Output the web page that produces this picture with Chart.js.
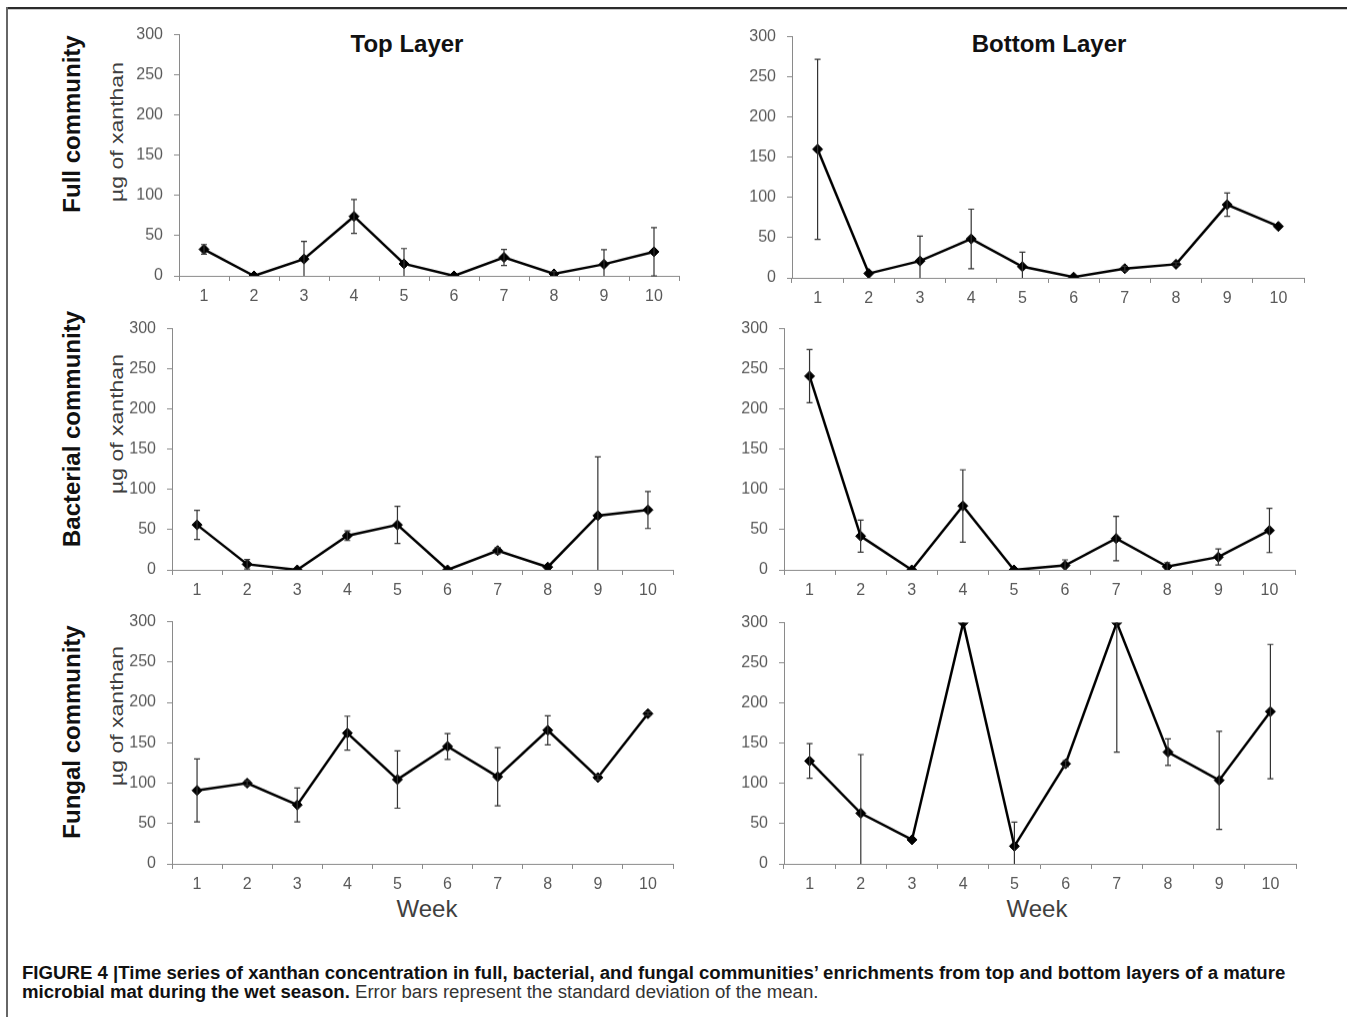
<!DOCTYPE html>
<html>
<head>
<meta charset="utf-8">
<script src="https://cdn.jsdelivr.net/npm/chart.js@4"></script>
<style>
  body { margin: 0; background: #fff; }
  #fig { position: relative; width: 1347px; height: 1017px; overflow: hidden; font-family: "Liberation Sans", Arial, sans-serif; }
  canvas { position: absolute; }
  .t { position: absolute; white-space: nowrap; transform: translate(-50%, -50%); }
  .rot { transform: translate(-50%, -50%) rotate(-90deg); }
  .rotthin { transform: translate(-50%, -50%) rotate(-90deg) scaleY(0.8); }
  .head { font-weight: bold; font-size: 24px; color: #111; }
  .row { font-weight: bold; font-size: 24px; color: #111; }
  .unit { font-size: 23px; color: #404040; }
  .week { font-size: 24px; color: #404040; }
  #caption { position: absolute; left: 22px; top: 963px; font-size: 16px; line-height: 19px; color: #111; white-space: nowrap; }
  #caption b { font-weight: bold; }
  #caption span.rest { color: #333; }
</style>
</head>
<body>
<div id="fig">
  <div style="position:absolute;left:6px;top:7px;width:1341px;height:2px;background:#2b2b2b;"></div>
  <div style="position:absolute;left:6px;top:9px;width:1341px;height:1px;background:#c8c8c8;"></div>
  <div style="position:absolute;left:6px;top:7px;width:2px;height:1010px;background:#666;"></div>

  <div class="t head" style="left:407px;top:44px;">Top Layer</div>
  <div class="t head" style="left:1049px;top:44px;">Bottom Layer</div>

  <div class="t rot row" style="left:72px;top:124px;">Full community</div>
  <div class="t rotthin unit" style="left:117px;top:132px;">µg of xanthan</div>
  <div class="t rot row" style="left:72px;top:429px;">Bacterial community</div>
  <div class="t rotthin unit" style="left:117px;top:424px;">µg of xanthan</div>
  <div class="t rot row" style="left:72px;top:732px;">Fungal community</div>
  <div class="t rotthin unit" style="left:117px;top:716px;">µg of xanthan</div>

  <div class="t week" style="left:427px;top:909px;">Week</div>
  <div class="t week" style="left:1037px;top:909px;">Week</div>

  <div id="caption">
    <div id="cap1"><b>FIGURE 4 |Time series of xanthan concentration in full, bacterial, and fungal communities’ enrichments from top and bottom layers of a mature</b></div>
    <div><b>microbial mat during the wet season.</b> <span class="rest">Error bars represent the standard deviation of the mean.</span></div>
  </div>
</div>

<script>
// weeks on the x axis
const weeks = ["1", "2", "3", "4", "5", "6", "7", "8", "9", "10"];
const yTicks = [0, 50, 100, 150, 200, 250, 300];

// µg of xanthan, mean and standard deviation per week
const topFull = [33, 0, 21, 74, 15, 0, 23, 2.5, 14.5, 30];
const topFullErr = [6, 0, 22, 21, 19, 0, 10, 3, 18, 30];
const bottomFull = [160, 5.5, 21, 48.5, 14, 1, 11.5, 17, 91, 64];
const bottomFullErr = [112, 0, 31, 37, 18, 0, 3, 2, 14.5, 0];

const topBact = [56, 7, 0, 42.5, 56, 0, 24, 3.5, 67.5, 74.5];
const topBactErr = [18, 6, 0, 6, 23, 0, 4, 0, 73, 23];
const bottomBact = [241, 42, 0, 79.5, 0, 5.5, 39, 4, 16, 49];
const bottomBactErr = [33, 20, 0, 45, 0, 7, 27.5, 5, 10, 27.5];

const topFung = [91, 100, 73, 162, 104.5, 145.5, 108, 165.5, 107, 186];
const topFungErr = [39, 3, 21, 21, 35.5, 16, 36, 18, 3, 2];
const bottomFung = [128, 63, 30, 300, 22, 124.5, 300, 139, 104, 189.5];
const bottomFungErr = [21.5, 73, 0, 0, 30, 4, 161, 16.5, 61, 83.5];

// where each plot area sits on the page
const panels = [
  { values: topFull, errors: topFullErr, ax: 179, right: 679, top: 35, bottom: 276 },
  { values: bottomFull, errors: bottomFullErr, ax: 792, right: 1304, top: 37, bottom: 278 },
  { values: topBact, errors: topBactErr, ax: 172, right: 673, top: 329, bottom: 570 },
  { values: bottomBact, errors: bottomBactErr, ax: 784, right: 1295, top: 329, bottom: 570 },
  { values: topFung, errors: topFungErr, ax: 172, right: 673, top: 622, bottom: 864 },
  { values: bottomFung, errors: bottomFungErr, ax: 784, right: 1296, top: 623, bottom: 864 },
];

const PAD_L = 70, PAD_T = 12, PAD_R = 12, PAD_B = 40;
const axisGray = "#8a8a8a";
const tickText = "#595959";

// draws the standard deviation whiskers, clipped to the axis range
const errorBars = {
  id: "errorBars",
  afterDatasetsDraw(chart) {
    const ctx = chart.ctx;
    const y = chart.scales.y;
    chart.data.datasets.forEach((ds, di) => {
      const meta = chart.getDatasetMeta(di);
      ds.errors.forEach((e, i) => {
        if (!e) return;
        const v = ds.data[i];
        const px = meta.data[i].x;
        const hi = v + e;
        const lo = v - e;
        const yTop = y.getPixelForValue(Math.min(hi, y.max));
        const yBot = y.getPixelForValue(Math.max(lo, y.min));
        ctx.save();
        ctx.strokeStyle = "#333";
        ctx.lineWidth = 1.2;
        ctx.beginPath();
        ctx.moveTo(px, yTop);
        ctx.lineTo(px, yBot);
        if (hi <= y.max) { ctx.moveTo(px - 3, yTop); ctx.lineTo(px + 3, yTop); }
        if (lo >= y.min) { ctx.moveTo(px - 3, yBot); ctx.lineTo(px + 3, yBot); }
        ctx.stroke();
        ctx.restore();
      });
    });
  },
};

Chart.defaults.font.family = '"Liberation Sans", Arial, sans-serif';

function makeConfig(p) {
  return {
    type: "line",
    data: {
      labels: weeks,
      datasets: [
        {
          data: p.values,
          errors: p.errors,
          borderColor: "#000",
          borderWidth: 2.5,
          tension: 0,
          pointStyle: "rectRot",
          pointRadius: 5,
          pointBackgroundColor: "#000",
          pointBorderColor: "#000",
          pointBorderWidth: 1,
        },
      ],
    },
    options: {
      responsive: false,
      maintainAspectRatio: false,
      animation: false,
      devicePixelRatio: 1,
      layout: { padding: { left: 0, top: PAD_T, right: PAD_R, bottom: 0 } },
      plugins: { legend: { display: false }, tooltip: { enabled: false } },
      scales: {
        x: {
          type: "category",
          offset: true,
          grid: { offset: true, drawOnChartArea: false, tickLength: 5, color: axisGray },
          border: { color: axisGray, width: 1 },
          ticks: { color: tickText, font: { size: 16 }, padding: 6, maxRotation: 0 },
          afterFit: (s) => { s.height = PAD_B; },
        },
        y: {
          min: yTicks[0],
          max: yTicks[yTicks.length - 1],
          afterBuildTicks: (s) => { s.ticks = yTicks.map((v) => ({ value: v })); },
          grid: { drawOnChartArea: false, tickLength: 5, color: axisGray },
          border: { color: axisGray, width: 1 },
          ticks: { color: tickText, font: { size: 16 }, padding: 11 },
          afterFit: (s) => { s.width = PAD_L; },
        },
      },
    },
    plugins: [errorBars],
  };
}

const fig = document.getElementById("fig");

function sizeCanvas(canvas, w, h) {
  canvas.width = w;
  canvas.height = h;
  canvas.style.width = w + "px";
  canvas.style.height = h + "px";
}

panels.forEach((p) => {
  const canvas = document.createElement("canvas");
  const w = (p.right - p.ax) + PAD_L + PAD_R;
  sizeCanvas(canvas, w, (p.bottom - p.top) + PAD_T + PAD_B);
  canvas.style.left = (p.ax - PAD_L) + "px";
  fig.appendChild(canvas);

  // first pass only to learn the top offset the layout adds
  let chart = new Chart(canvas.getContext("2d"), makeConfig(p));
  const topOff = chart.chartArea.top;
  chart.destroy();

  sizeCanvas(canvas, w, (p.bottom - p.top) + topOff + PAD_B);
  canvas.style.top = (p.top - topOff) + "px";
  chart = new Chart(canvas.getContext("2d"), makeConfig(p));
});

// fit caption first line to its width in the figure
const cap = document.getElementById("caption");
const cap1 = document.getElementById("cap1");
const wNow = cap1.firstChild.getBoundingClientRect().width;
cap.style.fontSize = (16 * 1265 / wNow).toFixed(2) + "px";
</script>
</body>
</html>
